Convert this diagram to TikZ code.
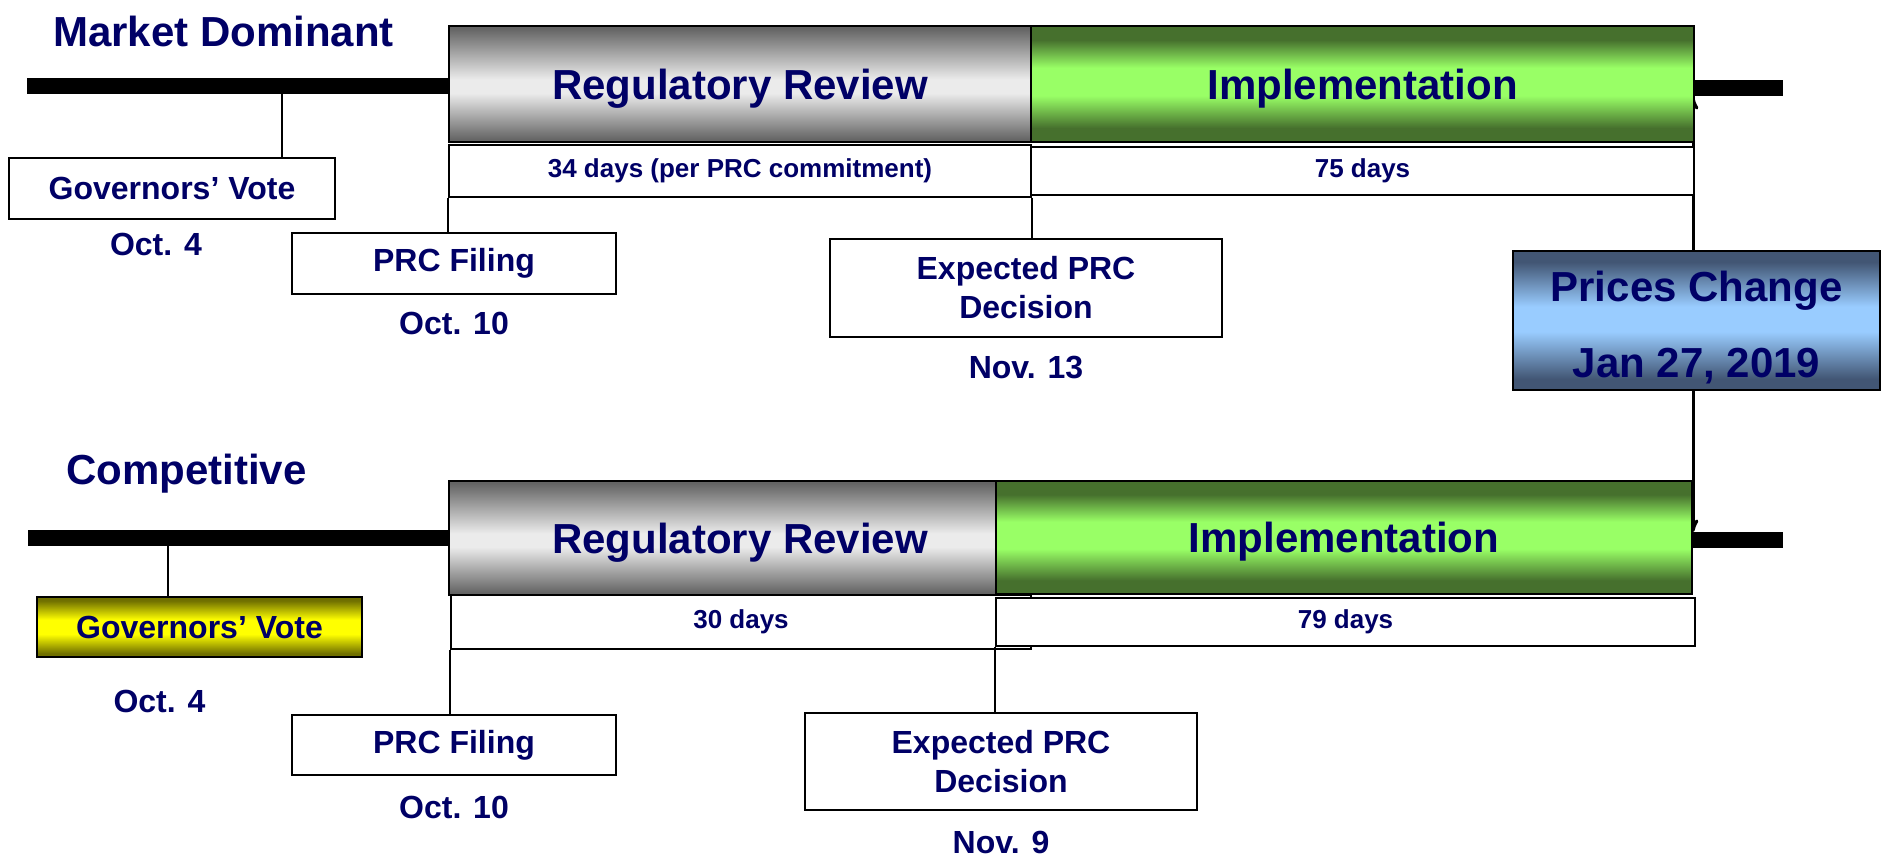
\documentclass[tikz,border=0pt]{standalone}
\usepackage{fontspec}
\setmainfont{Liberation Sans}
\usepackage{xcolor}
\usepackage{tikz}
\usetikzlibrary{arrows}
\usetikzlibrary{positioning}

\definecolor{navy}{RGB}{0,0,102}
\definecolor{regdark}{RGB}{100,100,100}
\definecolor{reglight}{RGB}{235,235,235}
\definecolor{impdark}{RGB}{70,112,45}
\definecolor{implight}{RGB}{153,255,102}
\definecolor{pcdark}{RGB}{66,86,116}
\definecolor{pclight}{RGB}{153,204,255}
\definecolor{votedark}{RGB}{112,112,0}
\definecolor{votelight}{RGB}{255,255,0}

\pgfdeclareverticalshading{reviewshade}{100bp}{color(0bp)=(regdark); color(26bp)=(regdark); color(46bp)=(reglight); color(52bp)=(reglight); color(74bp)=(regdark); color(100bp)=(regdark)}
\pgfdeclareverticalshading{implshade}{100bp}{color(0bp)=(impdark); color(31bp)=(impdark); color(45bp)=(implight); color(57bp)=(implight); color(69bp)=(impdark); color(100bp)=(impdark)}
\pgfdeclareverticalshading{priceshade}{100bp}{color(0bp)=(pcdark); color(29bp)=(pcdark); color(46bp)=(pclight); color(55bp)=(pclight); color(71bp)=(pcdark); color(100bp)=(pcdark)}
\pgfdeclareverticalshading{voteshade}{100bp}{color(0bp)=(votedark); color(28bp)=(votedark); color(44bp)=(votelight); color(56bp)=(votelight); color(72bp)=(votedark); color(100bp)=(votedark)}

\begin{document}
\begin{tikzpicture}[x=1pt,y=-1pt,>=stealth',
  every node/.style={text=navy,inner sep=0pt},
  titlelabel/.style={anchor=base west,font=\fontsize{42}{50}\selectfont\bfseries},
  phasebox/.style={draw,line width=2.5pt,text height=30pt,text depth=0pt,
    font=\fontsize{42}{50}\selectfont\bfseries},
  spanbox/.style={draw,fill=white,line width=2pt,font=\fontsize{26}{30}\selectfont\bfseries},
  eventbox/.style={draw,fill=white,line width=2pt,align=center,
    font=\fontsize{32}{39}\selectfont\bfseries},
  datelabel/.style={font=\fontsize{32}{39}\selectfont\bfseries},
  trackline/.style={line width=16pt},
  link/.style={line width=2pt}]

  \useasboundingbox (0,0) rectangle (1891,865);

  % ends of the two tracks
  \coordinate (mdstart) at (27,86);
  \coordinate (mdstop) at (1783,88);
  \coordinate (mdvote) at (282,86);
  \coordinate (mdend) at (1693,97);
  \coordinate (cpstart) at (28,538);
  \coordinate (cpstop) at (1783,540);
  \coordinate (cpvote) at (168,538);
  \coordinate (cpend) at (1693,532);

  \draw[link,line width=3pt,<->] (mdend) -- (cpend);

  % Market Dominant
  \node[titlelabel] (mdtitle) at (53,46) {Market Dominant};
  \node[phasebox,shading=reviewshade,minimum width=582pt,minimum height=116pt] (mdrev) at (740,84) {Regulatory Review};
  \node[phasebox,shading=implshade,minimum width=663pt,minimum height=116pt] (mdimp) at (1362.5,84) {Implementation};
  \node[spanbox,minimum width=582pt,minimum height=52pt] (md34) at (740,170.5) {34 days (per PRC commitment)};
  \node[spanbox,minimum width=663pt,minimum height=48pt] (md75) at (1362.5,170.5) {75 days};

  \node[eventbox,minimum width=326pt,minimum height=61pt] (mdgov) at (172,188.5) {Governors' Vote};
  \node[datelabel,below=13pt of mdgov,xshift=-16pt] (mdgovdate) {Oct. 4};
  \node[eventbox,minimum width=324pt,minimum height=61pt] (mdfile) at (454,263.5) {PRC Filing};
  \node[datelabel,below=17pt of mdfile] (mdfiledate) {Oct. 10};
  \node[eventbox,minimum width=392pt,minimum height=98pt] (mddec) at (1026,288) {Expected PRC\\Decision};
  \node[datelabel,below=18pt of mddec] (mddecdate) {Nov. 13};

  \node[eventbox,shading=priceshade,minimum width=367pt,minimum height=139pt,
    font=\fontsize{42}{76}\selectfont\bfseries] (pc) at (1696.5,320.5) {\rule{0pt}{45pt}Prices Change\\Jan 27, 2019};

  % Competitive
  \node[titlelabel] (cptitle) at (66,484) {Competitive};
  \node[phasebox,shading=reviewshade,minimum width=582pt,minimum height=114pt] (cprev) at (740,538) {Regulatory Review};
  \node[spanbox,minimum width=580pt,minimum height=54pt] (cp30) at (741,622) {30 days};
  \node[phasebox,shading=implshade,minimum width=696pt,minimum height=113pt] (cpimp) at (1344,537.5) {Implementation};
  \node[spanbox,minimum width=699pt,minimum height=48pt] (cp79) at (1345.5,622) {79 days};

  \node[eventbox,shading=voteshade,minimum width=325pt,minimum height=60pt] (cpgov) at (199.5,627) {Governors' Vote};
  \node[datelabel,below=32pt of cpgov,xshift=-40pt] (cpgovdate) {Oct. 4};
  \node[eventbox,minimum width=324pt,minimum height=60pt] (cpfile) at (454,745) {PRC Filing};
  \node[datelabel,below=20pt of cpfile] (cpfiledate) {Oct. 10};
  \node[eventbox,minimum width=392pt,minimum height=97pt] (cpdec) at (1001,761.5) {Expected PRC\\Decision};
  \node[datelabel,below=20pt of cpdec] (cpdecdate) {Nov. 9};

  % tracks and ticks
  \draw[trackline] (mdstart) -- (mdrev.west |- mdstart);
  \draw[trackline] (mdimp.east |- mdstop) -- (mdstop);
  \draw[trackline] (cpstart) -- (cprev.west |- cpstart);
  \draw[trackline] (cpimp.east |- cpstop) -- (cpstop);

  \draw[link] (mdvote) -- (mdvote |- mdgov.north);
  \draw[link] (md34.south west) -- (md34.south west |- mdfile.north);
  \draw[link] (md34.south east) -- (md34.south east |- mddec.north);
  \draw[link] (cpvote) -- (cpvote |- cpgov.north);
  \draw[link] (cp30.south west) -- (cp30.south west |- cpfile.north);
  \draw[link] (cp79.south west) -- (cp79.south west |- cpdec.north);
\end{tikzpicture}
\end{document}
